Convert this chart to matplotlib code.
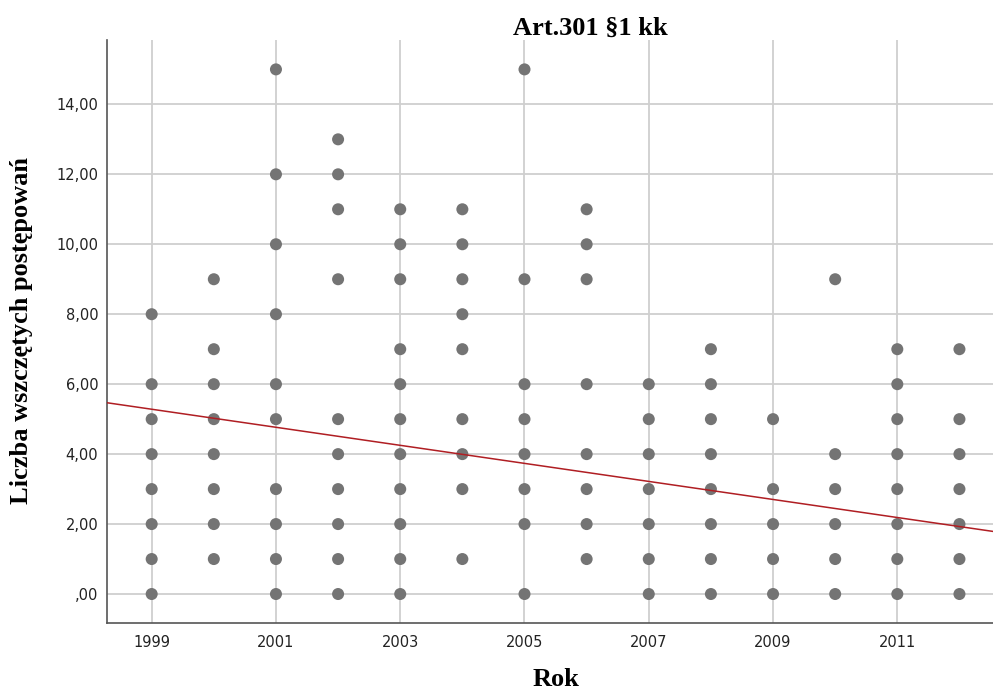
import matplotlib
matplotlib.use("Agg")
import matplotlib.pyplot as plt
from matplotlib.ticker import FuncFormatter

# Proceedings started per year (one point per distinct value)
years = [1999, 2000, 2001, 2002, 2003, 2004, 2005, 2006, 2007, 2008, 2009, 2010, 2011, 2012]
counts = [
    [8, 6, 5, 4, 3, 2, 1, 0],
    [9, 7, 6, 5, 4, 3, 2, 1],
    [15, 12, 10, 8, 6, 5, 3, 2, 1, 0],
    [13, 12, 11, 9, 5, 4, 3, 2, 1, 0],
    [11, 10, 9, 7, 6, 5, 4, 3, 2, 1, 0],
    [11, 10, 9, 8, 7, 5, 4, 3, 1],
    [15, 9, 6, 5, 4, 3, 2, 0],
    [11, 10, 9, 6, 4, 3, 2, 1],
    [6, 5, 4, 3, 2, 1, 0],
    [7, 6, 5, 4, 3, 2, 1, 0],
    [5, 3, 2, 1, 0],
    [9, 4, 3, 2, 1, 0],
    [7, 6, 5, 4, 3, 2, 1, 0],
    [7, 5, 4, 3, 2, 1, 0],
]

# Linear fit line (total population)
fit_x = [1998.276, 2012.54]
fit_y = [5.47, 1.79]

x_ticks = [1999, 2001, 2003, 2005, 2007, 2009, 2011]
y_ticks = [0, 2, 4, 6, 8, 10, 12, 14]

title = "Art.301 §1 kk"
x_label = "Rok"
y_label = "Liczba wszczętych postępowań"

xs = [y for y, vals in zip(years, counts) for _ in vals]
ys = [v for vals in counts for v in vals]

fig = plt.figure(figsize=(9.93, 6.91), dpi=100)
ax = fig.add_axes([106.7 / 993, 1 - 622.7 / 691, 1 - 106.7 / 993, (622.7 - 40) / 691])

ax.set_xlim(1998.276, 2012.54)
ax.set_ylim(-0.82, 15.84)

ax.set_xticks(x_ticks)
ax.set_yticks(y_ticks)
ax.yaxis.set_major_formatter(FuncFormatter(
    lambda v, p: ("%.2f" % v).replace(".", ",").lstrip("0") if v == 0 else ("%.2f" % v).replace(".", ",")))

ax.grid(True, color="#cfcfcf", linewidth=1.3, zorder=0)
ax.set_axisbelow(True)

ax.scatter(xs, ys, s=75, color="#747474", edgecolors="none", zorder=3)
ax.plot(fit_x, fit_y, color="#b01e23", linewidth=1.1, zorder=4)

for side in ("top", "right"):
    ax.spines[side].set_visible(False)
for side in ("left", "bottom"):
    ax.spines[side].set_color("#555555")
    ax.spines[side].set_linewidth(1.2)

ax.tick_params(axis="both", length=0, labelsize=10.5, labelcolor="#222222",
               labelfontfamily="DejaVu Sans")
ax.tick_params(axis="y", pad=6)
ax.tick_params(axis="x", pad=9)

serif = ["Liberation Serif", "DejaVu Serif"]
fig.text(590 / 993, 1 - 28 / 691, title, ha="center", va="center",
         fontsize=19, fontweight="bold", family=serif)
fig.text(556 / 993, 1 - 680 / 691, x_label, ha="center", va="center",
         fontsize=19, fontweight="bold", family=serif)
fig.text(22 / 993, 1 - 331 / 691, y_label, ha="center", va="center", rotation=90,
         fontsize=19, fontweight="bold", family=serif)

fig.savefig("out.png", dpi=100)
